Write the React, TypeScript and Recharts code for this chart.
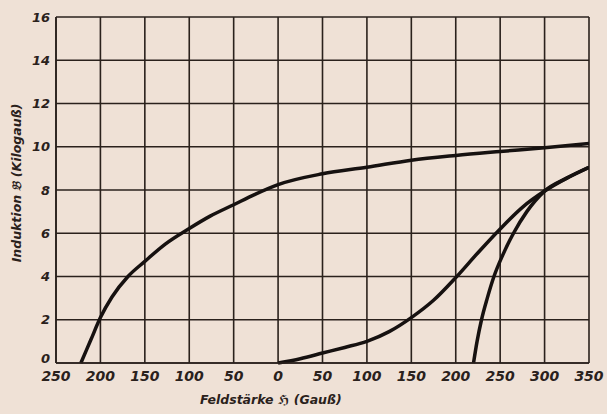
import React from 'react';
import { LineChart, Line, XAxis, YAxis, CartesianGrid } from 'recharts';

const xTicks = [-250, -200, -150, -100, -50, 0, 50, 100, 150, 200, 250, 300, 350];
const yTicks = [0, 2, 4, 6, 8, 10, 12, 14, 16];

// Descending branch (from positive saturation through remanence to coercive force)
const branchX = [-222, -211, -200, -187, -169, -150, -127, -100, -77, -50, -26, 0, 50, 100, 150, 200, 250, 300, 350];
const branchB = [0, 1.05, 2.1, 3.05, 4.0, 4.7, 5.5, 6.22, 6.78, 7.32, 7.8, 8.25, 8.75, 9.05, 9.38, 9.6, 9.78, 9.95, 10.15];

// Virgin curve
const virginX = [0, 25, 50, 75, 100, 125, 150, 175, 200, 225, 250, 275, 300, 325, 350];
const virginB = [0, 0.2, 0.46, 0.72, 1.0, 1.45, 2.1, 2.9, 3.95, 5.1, 6.2, 7.2, 7.95, 8.55, 9.05];

// Steep branch
const steepX = [220, 224, 229, 235.5, 243, 253, 265, 280, 300, 325, 350];
const steepB = [0, 1, 2, 3, 4, 5, 6, 7, 7.95, 8.55, 9.05];

const toData = (xs: number[], ys: number[]) => xs.map((h, i) => ({ h, b: ys[i] }));
const branchData = toData(branchX, branchB);
const virginData = toData(virginX, virginB);
const steepData = toData(steepX, steepB);

const INK = '#2a211c';
const CURVE = '#161110';
const FONT = '"DejaVu Sans", sans-serif';

const XLabel = (props: any) => {
  const vb = props.viewBox || {};
  return (
    <text x={vb.x + vb.width * 0.403} y={404} textAnchor="middle" fontFamily={FONT} fontSize={12.5}
      fontWeight="bold" fontStyle="italic" fill={INK}>
      Feldstärke ℌ  (Gauß)
    </text>
  );
};

const YLabel = (props: any) => {
  const vb = props.viewBox || {};
  const cx = 21;
  const cy = vb.y + vb.height / 2 - 7;
  return (
    <text x={cx} y={cy} transform={`rotate(-90, ${cx}, ${cy})`} textAnchor="middle" fontFamily={FONT}
      fontSize={12.5} fontWeight="bold" fontStyle="italic" fill={INK}>
      Induktion 𝔅 (Kilogauß)
    </text>
  );
};

const YTick = (props: any) => {
  const { x, y, payload } = props;
  const shift = payload.value === 0 ? -5 : 0;
  return (
    <text x={x} y={y + shift} dy="0.36em" textAnchor="end" fontFamily={FONT} fontSize={13}
      fontWeight="bold" fontStyle="italic" fill={INK}>
      {payload.value}
    </text>
  );
};

export default function App() {
  return (
    <div style={{ position: 'absolute', left: 0, top: 0, width: 607, height: 414, background: '#efe1d6' }}>
      <LineChart width={607} height={414} margin={{ top: 17, right: 18, bottom: 7, left: 16 }}>
        <CartesianGrid stroke={INK} strokeWidth={1.6} horizontalValues={yTicks} verticalValues={xTicks} />
        <XAxis
          type="number"
          dataKey="h"
          domain={[-250, 350]}
          ticks={xTicks}
          tickFormatter={(v: number) => String(Math.abs(v))}
          height={44}
          tickLine={false}
          axisLine={{ stroke: INK, strokeWidth: 1.6 }}
          tick={{ fill: INK, fontFamily: FONT, fontSize: 14, fontWeight: 'bold', fontStyle: 'italic' }}
          interval={0}
          allowDataOverflow
          label={{ content: XLabel }}
        />
        <YAxis
          type="number"
          dataKey="b"
          domain={[0, 16]}
          ticks={yTicks}
          width={40}
          tickLine={false}
          tickMargin={0}
          axisLine={{ stroke: INK, strokeWidth: 1.6 }}
          tick={<YTick />}
          interval={0}
          label={{ content: YLabel }}
        />
        <Line data={branchData} dataKey="b" type="monotone" stroke={CURVE} strokeWidth={3.5} dot={false} isAnimationActive={false} />
        <Line data={virginData} dataKey="b" type="monotone" stroke={CURVE} strokeWidth={3.5} dot={false} isAnimationActive={false} />
        <Line data={steepData} dataKey="b" type="monotone" stroke={CURVE} strokeWidth={3.5} dot={false} isAnimationActive={false} />
      </LineChart>
    </div>
  );
}
